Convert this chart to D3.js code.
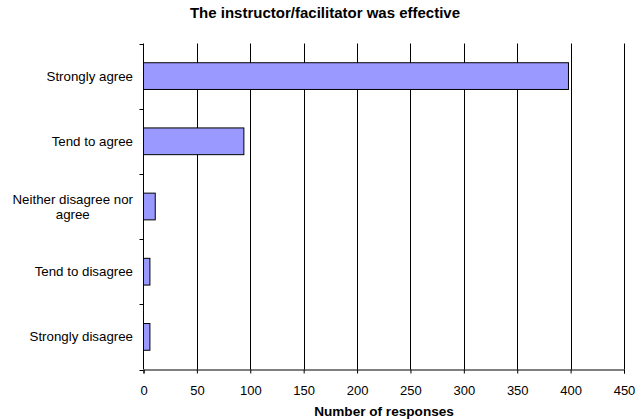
<!DOCTYPE html>
<html><head><meta charset="utf-8">
<script src="https://cdn.jsdelivr.net/npm/d3@7"></script>
<style>body{margin:0;background:#fff}svg{display:block;font-family:"Liberation Sans",Arial,sans-serif}</style>
</head><body><svg id="c" width="637" height="420"></svg>
<script>
const categories = ["Strongly agree","Tend to agree","Neither disagree nor agree","Tend to disagree","Strongly disagree"];
const categoryLines = [["Strongly agree"],["Tend to agree"],["Neither disagree nor","agree"],["Tend to disagree"],["Strongly disagree"]];
const values = [398, 94, 11, 6, 6];
const xTicks = [0,50,100,150,200,250,300,350,400,450];
const title = "The instructor/facilitator was effective";
const xTitle = "Number of responses";

const svg = d3.select("#c");
const m = {l:143.5, r:624, t:43.5, b:369.5};
const x = d3.scaleLinear().domain([0,450]).range([m.l, m.r]);
const y = d3.scaleBand().domain(categories).range([m.t, m.b]).paddingInner(0.59).paddingOuter(0.295);
const band = d3.scaleBand().domain(categories).range([m.t, m.b]);

// gridlines
svg.append("g").selectAll("line").data(xTicks.slice(1)).join("line")
  .attr("x1", d=>Math.round(x(d))+0.5).attr("x2", d=>Math.round(x(d))+0.5)
  .attr("y1", m.t).attr("y2", m.b).attr("stroke","#000").attr("stroke-width",1);

// bars
svg.append("g").selectAll("rect").data(values).join("rect")
  .attr("x", m.l).attr("y", (d,i)=>y(categories[i]))
  .attr("width", d=>x(d)-m.l).attr("height", y.bandwidth())
  .attr("fill","#9999ff").attr("stroke","#000").attr("stroke-width",1);

// x axis
const xa = svg.append("g").attr("transform",`translate(0,${m.b})`)
  .call(d3.axisBottom(x).tickValues(xTicks).tickSize(4).tickPadding(6).tickFormat(d3.format("d")));
xa.select(".domain").attr("stroke","#000");
xa.selectAll(".tick line").attr("stroke","#000");
xa.selectAll("text").attr("font-size","13px").attr("font-family","Liberation Sans, Arial, sans-serif").attr("fill","#000").attr("dy",null).attr("y",25.5);

// y axis line + ticks at band boundaries
svg.append("line").attr("x1",m.l).attr("x2",m.l).attr("y1",m.t).attr("y2",m.b).attr("stroke","#000");
const bounds = categories.map(c=>band(c)).concat([m.b]);
svg.append("g").selectAll("line").data(bounds).join("line")
  .attr("x1", m.l-4).attr("x2", m.l).attr("y1", d=>Math.round(d)+0.5).attr("y2", d=>Math.round(d)+0.5).attr("stroke","#000");

// y labels: block right-aligned at 133, lines centered within block
categories.forEach((c,i)=>{
  const lines = categoryLines[i];
  const cy = band(c) + band.bandwidth()/2;
  const t = svg.append("text").attr("text-anchor","middle").attr("font-size","13.3px").attr("fill","#000");
  const spans = lines.map((ln,j)=> t.append("tspan").attr("y", cy + 4.5 + (j-(lines.length-1)/2)*15).text(ln));
  const w = d3.max(spans, s=>s.node().getComputedTextLength());
  spans.forEach(s=>s.attr("x", 133 - w/2));
});

svg.append("text").attr("x",325).attr("y",18).attr("text-anchor","middle").attr("font-size","15px").attr("font-weight","bold").text(title);
svg.append("text").attr("x",384).attr("y",415.5).attr("text-anchor","middle").attr("font-size","13.6px").attr("font-weight","bold").text(xTitle);
</script></body></html>
